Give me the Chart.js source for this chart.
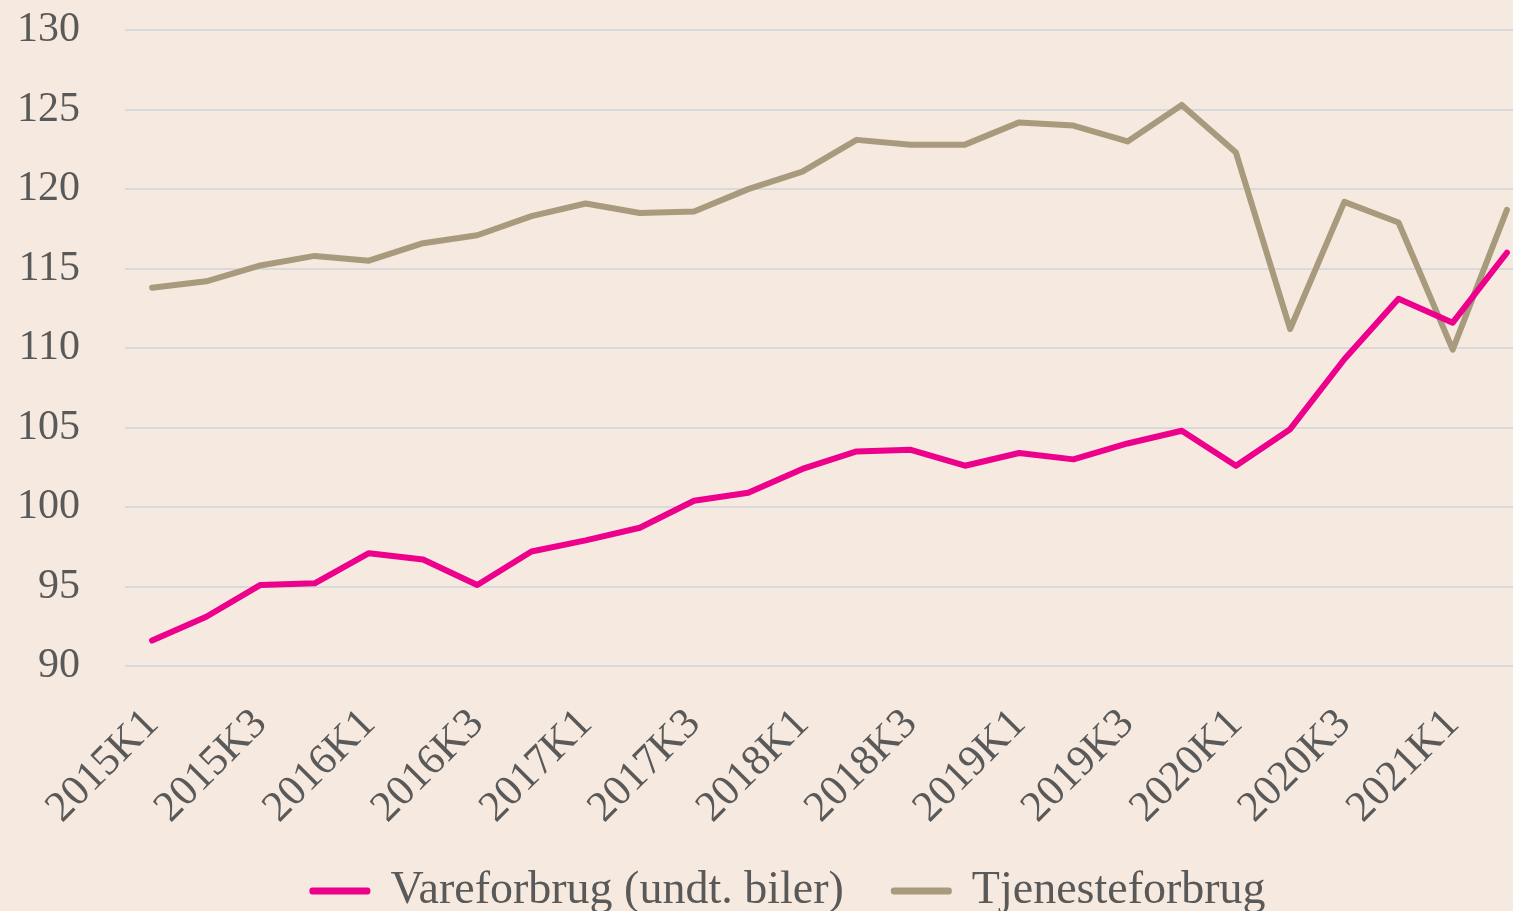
<!DOCTYPE html>
<html>
<head>
<meta charset="utf-8">
<script src="https://cdn.jsdelivr.net/npm/chart.js@4/dist/chart.umd.min.js"></script>
<style>
  html, body { margin: 0; padding: 0; background: #F6E9DF; overflow: hidden; width: 1513px; height: 911px; }
  #wrap { position: absolute; left: 0; top: -40px; width: 1534px; height: 986px; }
</style>
</head>
<body>
<div id="wrap"><canvas id="c"></canvas></div>
<script>
const categories = [
  "2015K1","2015K2","2015K3","2015K4",
  "2016K1","2016K2","2016K3","2016K4",
  "2017K1","2017K2","2017K3","2017K4",
  "2018K1","2018K2","2018K3","2018K4",
  "2019K1","2019K2","2019K3","2019K4",
  "2020K1","2020K2","2020K3","2020K4",
  "2021K1","2021K2"
];
const vareforbrug = [
  91.6, 93.1, 95.1, 95.2,
  97.1, 96.7, 95.1, 97.2,
  97.9, 98.7, 100.4, 100.9,
  102.4, 103.5, 103.6, 102.6,
  103.4, 103.0, 104.0, 104.8,
  102.6, 104.9, 109.3, 113.1,
  111.6, 116.0
];
const tjenesteforbrug = [
  113.8, 114.2, 115.2, 115.8,
  115.5, 116.6, 117.1, 118.3,
  119.1, 118.5, 118.6, 120.0,
  121.1, 123.1, 122.8, 122.8,
  124.2, 124.0, 123.0, 125.3,
  122.3, 111.2, 119.2, 117.9,
  109.9, 118.7
];
const seriesNames = ["Vareforbrug (undt. biler)", "Tjenesteforbrug"];
const yTicks = { min: 90, max: 130, step: 5 };

const FONT = "'Liberation Serif', 'DejaVu Serif', serif";
const TXT = "#595959";

const bg = {
  id: 'bg',
  beforeDraw(chart) {
    const ctx = chart.ctx;
    ctx.save();
    ctx.fillStyle = '#F6E9DF';
    ctx.fillRect(0, 0, chart.width, chart.height);
    ctx.restore();
  }
};

const legendShift = {
  id: 'legendShift',
  afterLayout(chart) {
    const lg = chart.legend;
    if (lg) {
      const h = lg.bottom - lg.top;
      lg.top = 858;
      lg.bottom = 858 + h;
      lg.left += 22;
      lg.right += 22;
    }
  }
};

new Chart(document.getElementById('c'), {
  type: 'line',
  data: {
    labels: categories,
    datasets: [
      {
        label: seriesNames[0],
        data: vareforbrug,
        borderColor: '#EC008C',
        backgroundColor: '#EC008C',
        borderWidth: 6,
        pointRadius: 0,
        tension: 0,
        borderCapStyle: 'round',
        borderJoinStyle: 'round'
      },
      {
        label: seriesNames[1],
        data: tjenesteforbrug,
        borderColor: '#A89A7D',
        backgroundColor: '#A89A7D',
        borderWidth: 6,
        pointRadius: 0,
        tension: 0,
        borderCapStyle: 'round',
        borderJoinStyle: 'round'
      }
    ]
  },
  options: {
    responsive: true,
    maintainAspectRatio: false,
    animation: false,
    layout: { padding: { top: 14, left: 0, right: 0, bottom: 0 } },
    plugins: {
      tooltip: { enabled: false },
      legend: {
        position: 'bottom',
        labels: {
          font: { family: FONT, size: 46 },
          color: TXT,
          boxWidth: 55,
          boxHeight: 1,
          padding: 50
        }
      }
    },
    scales: {
      x: {
        offset: true,
        grid: { display: false, drawTicks: false },
        border: { display: false },
        ticks: {
          autoSkip: false,
          maxRotation: 45,
          minRotation: 45,
          padding: 33,
          color: TXT,
          font: { family: FONT, size: 43 },
          callback: function(v, i) { return i % 2 === 0 ? categories[i] : null; }
        },
        afterFit(scale) { scale.height = 174; }
      },
      y: {
        min: yTicks.min,
        max: yTicks.max,
        grid: { color: '#D9D9D9', lineWidth: 2, drawTicks: false },
        border: { display: false },
        ticks: {
          stepSize: yTicks.step,
          padding: 45,
          color: TXT,
          font: { family: FONT, size: 42 }
        },
        afterFit(scale) { scale.width = 125; }
      }
    }
  },
  plugins: [bg, legendShift]
});
</script>
</body>
</html>
